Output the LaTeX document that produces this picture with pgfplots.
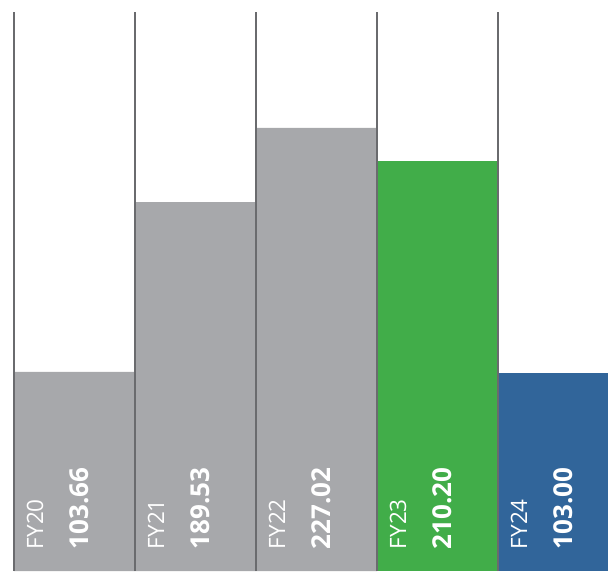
\documentclass[border=0pt]{standalone}
\usepackage{pgfplots}
\pgfplotsset{compat=1.18}
\usepackage{fontspec}
\setmainfont{Open Sans}
\definecolor{bargray}{HTML}{A7A8AB}
\definecolor{bargreen}{HTML}{41AD49}
\definecolor{barblue}{HTML}{31659A}
\definecolor{sepline}{HTML}{6A6B6E}
\begin{document}
\begin{tikzpicture}
\begin{axis}[
    width=608pt, height=571pt,
    scale only axis,
    axis lines=none,
    xmin=-0.6157, xmax=4.409,
    ymin=3.03, ymax=291.7,
    ybar, bar width=1, bar shift=0,
    clip=true,
]
\addplot[fill=bargray, draw=none] coordinates {(0,103.66) (1,189.53) (2,227.02)};
\addplot[fill=bargreen, draw=none] coordinates {(3,210.20)};
\addplot[fill=barblue, draw=none] coordinates {(4,103.00)};
% separators at the left edge of each bar
\addplot[sepline, line width=1.6pt, ycomb, mark=none] coordinates {
    (-0.5,285.6) (0.5,285.6) (1.5,285.6) (2.5,285.6) (3.5,285.6)};
% labels
\foreach \i/\yr/\val in {0/FY20/103.66, 1/FY21/189.53, 2/FY22/227.02, 3/FY23/210.20, 4/FY24/103.00} {
    \edef\temp{\noexpand\node[rotate=90, anchor=base west, inner sep=0pt, text=white,
        font=\noexpand\fontsize{22.5}{27}\noexpand\selectfont]
        at (axis cs:\i-0.5+29/121,14) {\yr};
      \noexpand\node[rotate=90, anchor=base west, inner sep=0pt, text=white,
        font=\noexpand\fontsize{26}{31}\noexpand\selectfont\noexpand\bfseries]
        at (axis cs:\i-0.5+74/121,14) {\val};}
    \temp
}
\end{axis}
\path (current axis.south west) rectangle (current axis.north east);
\end{tikzpicture}
\end{document}
